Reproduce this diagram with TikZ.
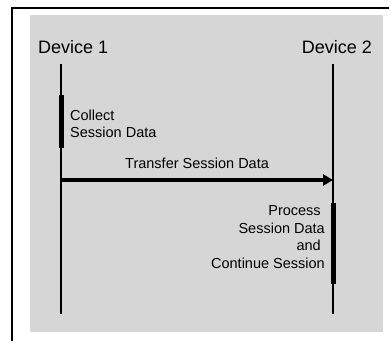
\documentclass[tikz,border=0pt]{standalone}
\usepackage{fontspec}
\setmainfont{Liberation Sans}
\usetikzlibrary{arrows.meta}
\definecolor{panelgray}{HTML}{D6D6D6}
\begin{document}
\begin{tikzpicture}[x=1pt,y=-1pt,
  frameline/.style={line width=1.8pt,black},
  lifeline/.style={line width=1.4pt,black},
  activity/.style={line width=5pt,black},
  message/.style={line width=3.5pt,black,-{Triangle[length=10pt,width=11pt]}},
  devlabel/.style={font=\fontsize{18}{21}\selectfont,inner sep=0pt},
  note/.style={font=\fontsize{14.5}{17.5}\selectfont,inner sep=0pt}]
\useasboundingbox (0,0) rectangle (391,341);
% panel
\fill[panelgray] (30,15) rectangle (383,332);
\draw[frameline] (12,341) -- (12,8) -- (389,8);
% device labels
\node[devlabel,anchor=base west] (dev1) at (38,53) {Device 1};
\node[devlabel,anchor=base east] (dev2) at (372,53) {Device 2};
% lifelines
\coordinate (l1top) at (61,64);
\coordinate (l1bot) at (61,314);
\coordinate (l2top) at (333,64);
\coordinate (l2bot) at (333,314);
\draw[lifeline] (l1top) -- (l1bot);
\draw[lifeline] (l2top) -- (l2bot);
% activity bars
\coordinate (a1s) at (61,95);
\coordinate (a1e) at (61,148);
\coordinate (a2s) at (333,203);
\coordinate (a2e) at (333,284);
\draw[activity] (a1s) -- (a1e);
\draw[activity] (a2s) -- (a2e);
% notes
\node[note,anchor=north west,align=left] (collect) at (70,109.5) {Collect\\Session Data};
\node[note,anchor=north east,align=right] (process) at (325,205.5)
  {Process\kern0.28em\\Session Data\\and\kern0.28em\\Continue Session};
% message
\coordinate (m1) at (61,180);
\coordinate (m2) at (333,180);
\draw[message] (m1) -- (m2);
\node[note,anchor=base west] (transfer) at (125,168) {Transfer Session Data};
\end{tikzpicture}
\end{document}
